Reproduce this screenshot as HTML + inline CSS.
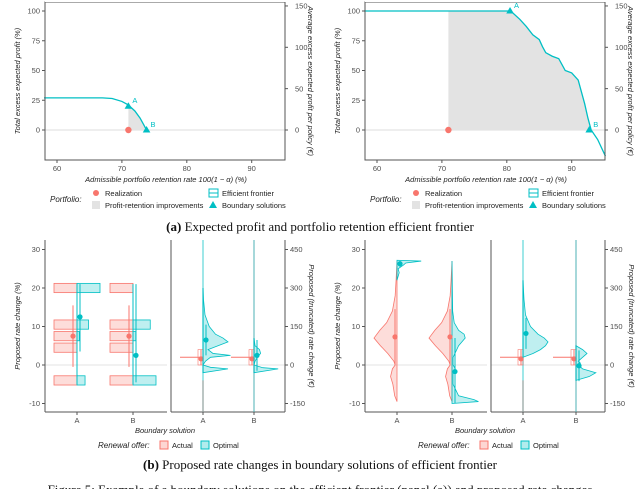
<!DOCTYPE html>
<html><head><meta charset="utf-8">
<style>
html,body{margin:0;padding:0;background:#fff;}
svg{display:block;font-family:"Liberation Sans",sans-serif;}
.tk{font-size:7.5px;fill:#4d4d4d;}
.tt{font-size:7.5px;fill:#222;font-style:italic;}
.lg{font-size:7.5px;fill:#222;}
.cap{font-family:"Liberation Serif",serif;font-size:13px;fill:#111;}
</style></head>
<body>
<svg id="fig" width="640" height="489" viewBox="0 0 640 489" xmlns="http://www.w3.org/2000/svg"></svg>
<script>
// ---------- data ----------
const retTicks=[60,70,80,90];
const profTicks=[0,25,50,75,100];
const eurTicks=[0,50,100,150];
const frontL_x=[58,67,68.5,70,71,72,72.8,73.4,73.8];
const frontL_y=[27,27,26.5,24,21,16,10,4,0];
const frontR_x=[58,80.5,81,82,83,84,85,85.5,86,87,88,88.5,89,90,91,91.5,92,92.5,93,94,95.2];
const frontR_y=[100,100,98,93,87,80,76,70,65,62,60,55,50,48,42,32,22,10,0,-8,-22];
const realL=[71,0], realR=[71,0];
const boundL_x=[71,73.8], boundL_y=[20,0];
const boundR_x=[80.5,92.7], boundR_y=[100,0];
const rateTicks=[-10,0,10,20,30];
const eurRateTicks=[-150,0,150,300,450];
const histBins=[20,10.5,7.5,4.5,-4];
const histActA=[10,10,10,10,10];
const histOptA=[10,5,1,0,3.5];
const histActB=[10,10,10,10,10];
const histOptB=[0,7.5,1.2,0,10];
const estAct=[7.5,7.5], lowAct=[-0.5,-0.5], highAct=[15.5,15.5];
const estOpt=[12.5,2.5], lowOpt=[3.5,-4.5], highOpt=[21,21];
const dvAct_v=[-9.5,-8,-5,-3,-1,0,1,3,5,7,9,11,14,18,22,27];
const dvAct_w=[0,0.1,0.18,0.28,0.2,0.08,0.14,0.4,0.72,1,0.75,0.45,0.2,0.08,0.04,0];
const dvOptA_v=[22,24,25,26,26.5,27,27.2];
const dvOptA_w=[0,0.1,0.05,0.3,0.4,1.1,0];
const dvOptB_v=[-10,-9.5,-9,-8,-5,-2,-1,0,2,5,7,8,9,11,14,27];
const dvOptB_w=[0,1.2,1.0,0.3,0.05,0.05,0.15,0.05,0.05,0.3,0.6,0.55,0.3,0.1,0.03,0];
const pAct_est=[7.3,7.3], pAct_lo=[0,0], pAct_hi=[14.5,14.5];
const pOpt_est=[26.3,-1.7], pOpt_lo=[25.5,-10], pOpt_hi=[27,7];
const eA1_v=[-2,-1,-0.6,0,1,2,2.5,3,4,5,6,7,8,10,13,17,20];
const eA1_w=[0,1,0.3,0,0.1,0.3,1.1,0.4,0.2,0.6,1,0.8,0.5,0.25,0.08,0.02,0];
const eB1_v=[-2,-1,-0.7,0,1,2,3,4,5,7];
const eB1_w=[0,1.1,0.4,0,0.05,0.15,0.3,0.25,0.05,0];
const eA2_v=[2,3,4,5,6,7,8,10,13,17,22];
const eA2_w=[0,0.4,0.7,0.9,1,0.85,0.6,0.3,0.1,0.04,0];
const eB2_v=[-4,-3,-2,-1,0,0.5,1,2,3,4,5];
const eB2_w=[0,0.6,0.9,0.3,0.1,0.2,0.1,0.3,0.5,0.3,0];
const eEst1=[1.6,6.5,1.6,2.5], eEst2=[1.6,8.2,1.6,-0.2];

// ---------- helpers ----------
const S=document.getElementById('fig');
const NS='http://www.w3.org/2000/svg';
function mk(tag,at,parent){const e=document.createElementNS(NS,tag);for(const k in at)e.setAttribute(k,at[k]);(parent||S).appendChild(e);return e;}
function txt(x,y,s,cls,extra){const e=mk('text',Object.assign({x:x,y:y,class:cls},extra||{}));e.textContent=s;return e;}
const RED='#f8766d', CY='#00bfc4';

// ---------- top panels ----------
function topPanel(ox,fx,fy,real,bx,by,tag){
  const X=v=>ox+57+(v-60)*6.49, Y=v=>130-v*1.19;
  const L=ox+45,R=ox+285,T=2,B=160;
  const g=mk('g',{});
  
  
  mk('line',{x1:L,x2:R,y1:Y(0),y2:Y(0),stroke:'#ddd','stroke-width':1},g);
  let pts=[[X(real[0]),Y(0)]];
  const top=fx.map((v,i)=>[v,fy[i]]).filter(p=>p[0]>=real[0]&&p[1]>=0);
  pts.push([X(real[0]),Y(Math.min(fy[0],top.length?top[0][1]:0))]);
  top.forEach(p=>pts.push([X(p[0]),Y(p[1])]));
  const sh=mk('polygon',{points:pts.map(p=>p.join(',')).join(' '),fill:'#e3e3e3'},g);
  
  
  const ln=mk('polyline',{points:fx.map((v,i)=>X(v)+','+Y(fy[i])).join(' '),fill:'none',stroke:CY,'stroke-width':1.3},g);
  
  
  const c=mk('circle',{cx:X(real[0]),cy:Y(real[1]),r:3.2,fill:RED},g);
  
  
  ['A','B'].forEach((n,i)=>{const x=X(bx[i]),y=Y(by[i]);
    const t=mk('polygon',{points:`${x},${y-4} ${x-3.8},${y+2.5} ${x+3.8},${y+2.5}`,fill:CY},g);
    
    
    txt(x+4,y-3,n,'tk',{style:'fill:'+CY});});
  mk('rect',{x:L,y:T,width:R-L,height:B-T,fill:'none',stroke:'#555','stroke-width':1},g);
  mk('rect',{x:L,y:T-2,width:R-L+3,height:2,fill:'#fff'},g);
  profTicks.forEach(v=>{mk('line',{x1:L-3,x2:L,y1:Y(v),y2:Y(v),stroke:'#555'},g);txt(L-5,Y(v)+2.6,v,'tk',{'text-anchor':'end'});});
  eurTicks.forEach(v=>{const y=130-v*0.827;mk('line',{x1:R,x2:R+3,y1:y,y2:y,stroke:'#555'},g);txt(R+10,y+2.6,v,'tk');});
  retTicks.forEach(v=>{mk('line',{x1:X(v),x2:X(v),y1:B,y2:B+3,stroke:'#555'},g);txt(X(v),B+11,v,'tk',{'text-anchor':'middle'});});
  txt(ox+166,B+22,'Admissible portfolio retention rate 100(1 − α) (%)','tt',{'text-anchor':'middle'});
  txt(0,0,'Total excess expected profit (%)','tt',{'text-anchor':'middle',transform:`translate(${ox+20},${(T+B)/2}) rotate(-90)`});
  txt(0,0,'Average excess expected profit per policy (€)','tt',{'text-anchor':'middle',transform:`translate(${ox+308},${(T+B)/2}) rotate(90)`});
  txt(ox+50,202,'Portfolio:','tt',{style:'font-size:8px'});
  mk('circle',{cx:ox+96,cy:193,r:3,fill:RED},g);txt(ox+105,196,'Realization','lg');
  mk('rect',{x:ox+92,y:201,width:8,height:8,fill:'#e3e3e3'},g);txt(ox+105,208,'Profit-retention improvements','lg');
  mk('rect',{x:ox+209,y:189,width:9,height:8,fill:'none',stroke:CY},g);mk('line',{x1:ox+209,x2:ox+218,y1:193,y2:193,stroke:CY},g);
  txt(ox+222,196,'Efficient frontier','lg');
  mk('polygon',{points:`${ox+213},${201} ${ox+209},${208} ${ox+217},${208}`,fill:CY},g);txt(ox+222,208,'Boundary solutions','lg');
}
topPanel(0,frontL_x,frontL_y,realL,boundL_x,boundL_y,'left');
topPanel(320,frontR_x,frontR_y,realR,boundR_x,boundR_y,'right');

// ---------- bottom panels ----------
const BY=v=>365-v*3.85;
function axesBottom(ox,g){
  const L=ox+45,M1=ox+167,M2=ox+171,R=ox+285,B=412;
  mk('line',{x1:L,x2:M1,y1:BY(0),y2:BY(0),stroke:'#e3e3e3'},g);
  mk('line',{x1:M2,x2:R,y1:BY(0),y2:BY(0),stroke:'#e3e3e3'},g);
  [[L,L,240,B],[L,M1,B,B],[M2,R,B,B],[M2,M2,240,B],[R,R,240,B]].forEach(a=>mk('line',{x1:a[0],x2:a[1],y1:a[2],y2:a[3],stroke:'#555'},g));
  rateTicks.forEach(v=>{mk('line',{x1:L-3,x2:L,y1:BY(v),y2:BY(v),stroke:'#555'},g);txt(L-5,BY(v)+2.6,v,'tk',{'text-anchor':'end'});});
  eurRateTicks.forEach(v=>{const y=BY(v/15);mk('line',{x1:R,x2:R+3,y1:y,y2:y,stroke:'#555'},g);txt(R+5,y+2.6,v,'tk');});
  txt(ox+165,433,'Boundary solution','tt',{'text-anchor':'middle'});
  txt(0,0,'Proposed rate change (%)','tt',{'text-anchor':'middle',transform:`translate(${ox+20},326) rotate(-90)`});
  txt(0,0,'Proposed (truncated) rate change (€)','tt',{'text-anchor':'middle',transform:`translate(${ox+309},326) rotate(90)`});
  txt(ox+98,448,'Renewal offer:','tt',{style:'font-size:8px'});
  mk('rect',{x:ox+160,y:441,width:8,height:8,fill:RED,'fill-opacity':0.3,stroke:RED},g);txt(ox+172,448,'Actual','lg');
  mk('rect',{x:ox+201,y:441,width:8,height:8,fill:CY,'fill-opacity':0.3,stroke:CY},g);txt(ox+213,448,'Optimal','lg');
}
function tickX(x,lbl,g){mk('line',{x1:x,x2:x,y1:412,y2:415,stroke:'#555'},g);txt(x,423,lbl,'tk',{'text-anchor':'middle'});}
function errbar(x,est,lo,hi,col,g,nm){
  mk('line',{x1:x,x2:x,y1:BY(lo),y2:BY(hi),stroke:col,'stroke-width':1},g);
  const c=mk('circle',{cx:x,cy:BY(est),r:2.6,fill:col},g);
  
  
}
function dens(x0,vals,wid,scale,dir,col,g,nm){
  const pts=vals.map((v,i)=>(x0+dir*wid[i]*scale)+','+BY(v));
  pts.push(x0+','+BY(vals[vals.length-1]));pts.unshift(x0+','+BY(vals[0]));
  const p=mk('polygon',{points:pts.join(' '),fill:col,'fill-opacity':0.25,stroke:col,'stroke-width':0.8},g);
  
  
}
function eurPanel(ox,xa,xb,dA,dAw,dB,dBw,est,g){
  mk('line',{x1:xa,x2:xa,y1:240,y2:412,stroke:CY,'stroke-opacity':0.5,'stroke-width':1.5},g);
  mk('line',{x1:xa,x2:xa,y1:BY(-4),y2:412,stroke:RED,'stroke-opacity':0.4,'stroke-width':1.5},g);
  mk('line',{x1:xb,x2:xb,y1:240,y2:412,stroke:'#3aa9ad','stroke-opacity':0.6,'stroke-width':1.5},g);
  [xa,xb].forEach((x,i)=>{
    mk('line',{x1:x-23,x2:x,y1:BY(2),y2:BY(2),stroke:RED,'stroke-width':1},g);
    mk('rect',{x:x-5,y:BY(4),width:5,height:BY(0)-BY(4),fill:'none',stroke:RED,'stroke-width':0.6},g);
    errbar(x-2,est[i*2],0,4,RED,g,'actual-eur-'+(i?'B':'A'));
  });
  dens(xa,dA,dAw,25,1,CY,g,'optimal-eur-density-A');
  dens(xb,dB,dBw,22,1,CY,g,'optimal-eur-density-B');
  errbar(xa+3,est[1],est[1]-4,est[1]+4,CY,g,'optimal-eur-A');
  errbar(xb+3,est[3],est[3]-4,est[3]+4,CY,g,'optimal-eur-B');
}
(function(){
  const g=mk('g',{});
  
  
  axesBottom(0,g);
  const xA=77,xB=133,unit=2.3;
  [[xA,histActA,histOptA,'A'],[xB,histActB,histOptB,'B']].forEach(s=>{
    histBins.forEach((b,i)=>{
      const y1=BY(b+1.2),h=BY(b-1.2)-y1;
      const r1=mk('rect',{x:s[0]-s[1][i]*unit,y:y1,width:s[1][i]*unit,height:h,fill:RED,'fill-opacity':0.25,stroke:RED,'stroke-width':0.8},g);
      
      
      if(s[2][i]>0){const r2=mk('rect',{x:s[0],y:y1,width:s[2][i]*unit,height:h,fill:CY,'fill-opacity':0.25,stroke:CY,'stroke-width':0.8},g);
      
      }
    });
    mk('line',{x1:s[0],x2:s[0],y1:BY(21),y2:BY(-5),stroke:CY,'stroke-width':1},g);
  });
  errbar(xA-4,estAct[0],lowAct[0],highAct[0],RED,g,'actual-A');
  errbar(xA+3,estOpt[0],lowOpt[0],highOpt[0],CY,g,'optimal-A');
  errbar(xB-4,estAct[1],lowAct[1],highAct[1],RED,g,'actual-B');
  errbar(xB+3,estOpt[1],lowOpt[1],highOpt[1],CY,g,'optimal-B');
  tickX(xA,'A',g);tickX(xB,'B',g);
  eurPanel(0,203,254,eA1_v,eA1_w,eB1_v,eB1_w,eEst1,g);
  tickX(203,'A',g);tickX(254,'B',g);
})();
(function(){
  const g=mk('g',{});
  
  
  axesBottom(320,g);
  const xA=397,xB=452;
  dens(xA,dvAct_v,dvAct_w,23,-1,RED,g,'actual-density-A');
  dens(xB,dvAct_v,dvAct_w,23,-1,RED,g,'actual-density-B');
  dens(xA,dvOptA_v,dvOptA_w,22,1,CY,g,'optimal-density-A');
  dens(xB,dvOptB_v,dvOptB_w,22,1,CY,g,'optimal-density-B');
  errbar(xA-2,pAct_est[0],pAct_lo[0],pAct_hi[0],RED,g,'actual-A');
  errbar(xB-2,pAct_est[1],pAct_lo[1],pAct_hi[1],RED,g,'actual-B');
  errbar(xA+3,pOpt_est[0],pOpt_lo[0],pOpt_hi[0],CY,g,'optimal-A');
  errbar(xB+3,pOpt_est[1],pOpt_lo[1],pOpt_hi[1],CY,g,'optimal-B');
  tickX(xA,'A',g);tickX(xB,'B',g);
  eurPanel(320,523,576,eA2_v,eA2_w,eB2_v,eB2_w,eEst2,g);
  tickX(523,'A',g);tickX(576,'B',g);
})();
// captions
const c1=mk('text',{x:320,y:231,class:'cap','text-anchor':'middle'});


c1.innerHTML='<tspan font-weight="bold">(a)</tspan> Expected profit and portfolio retention efficient frontier';
const c2=mk('text',{x:320,y:469,class:'cap','text-anchor':'middle'});


c2.innerHTML='<tspan font-weight="bold">(b)</tspan> Proposed rate changes in boundary solutions of efficient frontier';
const c3=txt(320,494,'Figure 5: Example of a boundary solutions on the efficient frontier (panel (a)) and proposed rate changes','cap',{'text-anchor':'middle'});


</script>
</body></html>
